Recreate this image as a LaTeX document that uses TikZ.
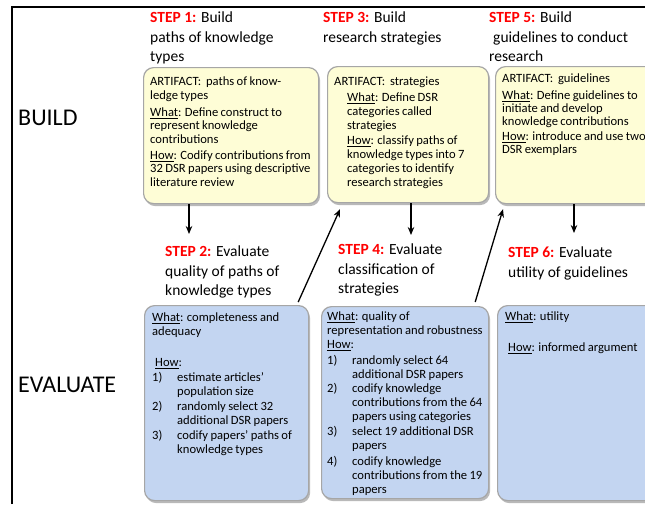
\documentclass[tikz,border=0pt]{standalone}
\usepackage{fontspec}
\setmainfont{Carlito}
\usetikzlibrary{arrows.meta,shadows}
\definecolor{ylw}{RGB}{254,253,214}
\definecolor{blu}{RGB}{195,213,241}
\definecolor{stepred}{RGB}{255,0,0}
\newcommand{\stp}[1]{\textcolor{stepred}{\bfseries #1}}
\newcommand{\itm}[1]{\makebox[25pt][l]{#1}}
\newcommand{\bxfont}[1]{\fontsize{12.6}{#1}\selectfont\spaceskip=0.19em plus 0.05em minus 0.03em\relax}
\begin{document}
\begin{tikzpicture}[x=1pt,y=-1pt,
  bbox/.style={rounded corners=10pt, draw=black!35, line width=1.2pt,
    drop shadow={shadow xshift=1.5pt,shadow yshift=-2.5pt,opacity=0.55}},
  buildbox/.style={bbox, fill=ylw, anchor=north west, inner sep=0pt},
  evalbox/.style={bbox, fill=blu, anchor=north west, inner sep=0pt},
  boxtext/.style={anchor=north west, inner sep=0pt, align=left, font=\bxfont{13.5}},
  steptext/.style={anchor=north west, inner sep=0pt, align=left, font=\fontsize{15.5}{19.5}\selectfont},
  phase/.style={anchor=west, inner sep=0pt, font=\fontsize{24}{28}\selectfont},
  arr/.style={line width=1.3pt, -{Stealth[length=8pt,width=6.5pt]}},
]
\useasboundingbox (0,0) rectangle (645,504);
% frame
\draw[line width=2pt] (12,504) -- (12,7) -- (645,7);
% phases
\node[phase] (build) at (18,118) {BUILD};
\node[phase] (evaluate) at (18,385) {EVALUATE};
% step labels
\node[steptext] (s1) at (150,12) {\stp{STEP 1:} Build\\paths of knowledge\\types};
\node[steptext] (s3) at (323,12) {\stp{STEP 3:} Build\\research strategies};
\node[steptext] (s5) at (489,12) {\stp{STEP 5:} Build\\\hspace*{4pt}guidelines to conduct\\research};
\node[steptext] (s2) at (165,246) {\stp{STEP 2:} Evaluate\\quality of paths of\\knowledge types};
\node[steptext] (s4) at (338,244) {\stp{STEP 4:} Evaluate\\classification of\\strategies};
\node[steptext] (s6) at (508,247) {\stp{STEP 6:} Evaluate\\utility of guidelines};
% build boxes
\node[buildbox, minimum width=175pt, minimum height=136pt] (b1) at (143,67) {};
\node[buildbox, minimum width=161pt, minimum height=136pt] (b2) at (327,66) {};
\node[buildbox, minimum width=170pt, minimum height=137pt] (b3) at (495,66) {};
% evaluate boxes
\node[evalbox, minimum width=164pt, minimum height=195pt] (e1) at (144,305) {};
\node[evalbox, minimum width=167pt, minimum height=192pt] (e2) at (321,306) {};
\node[evalbox, minimum width=170pt, minimum height=195pt] (e3) at (497,305) {};
% build box texts
\node[boxtext] (t1) at (150,77) {ARTIFACT:\ \ paths of know-\\ledge types\\[3.5pt]
\underline{What}: Define construct to\\represent knowledge\\contributions\\[2.5pt]
\underline{How}: Codify contributions from\\32 DSR papers using descriptive\\literature review};
\node[boxtext, font=\bxfont{14}] (t2) at (334,77) {ARTIFACT:\ \ strategies\\[2pt]
\hspace*{13pt}\underline{What}: Define DSR\\\hspace*{13pt}categories called\\\hspace*{13pt}strategies\\[1pt]
\hspace*{13pt}\underline{How}: classify paths of\\\hspace*{13pt}knowledge types into 7\\\hspace*{13pt}categories to identify\\\hspace*{13pt}research strategies};
\node[boxtext, font=\bxfont{13}] (t3) at (502,74) {ARTIFACT:\ \ guidelines\\[3.5pt]
\underline{What}: Define guidelines to\\initiate and develop\\knowledge contributions\\[2.5pt]
\underline{How}: introduce and use two\\DSR exemplars};
% evaluate box texts
\node[boxtext, font=\bxfont{14}] (u1) at (152,313) {\underline{What}: completeness and\\adequacy\\[17pt]
\hspace*{3pt}\underline{How}:\\[1pt]
\itm{1)}estimate articles’\\\itm{}population size\\[1pt]
\itm{2)}randomly select 32\\\itm{}additional DSR papers\\[1pt]
\itm{3)}codify papers’ paths of\\\itm{}knowledge types};
\node[boxtext, font=\bxfont{14}] (u2) at (327,312) {\underline{What}: quality of\\representation and robustness\\
\underline{How}:\\[2pt]
\itm{1)}randomly select 64\\\itm{}additional DSR papers\\
\itm{2)}codify knowledge\\\itm{}contributions from the 64\\\itm{}papers using categories\\[1pt]
\itm{3)}select 19 additional DSR\\\itm{}papers\\[2pt]
\itm{4)}codify knowledge\\\itm{}contributions from the 19\\\itm{}papers};
\node[boxtext, font=\bxfont{14}] (u3) at (505,312) {\underline{What}: utility\\[17pt]
\hspace*{3pt}\underline{How}: informed argument};
% connectors
\coordinate (d1) at (189,234);
\coordinate (d2) at (411,235);
\coordinate (d3) at (574,233);
\draw[arr] (b1.south -| d1) -- (d1);
\draw[arr] (b2.south -| d2) -- (d2);
\draw[arr] (b3.south -| d3) -- (d3);
\draw[arr] ([xshift=-11pt,yshift=3pt]e1.north east) -- ([xshift=13pt,yshift=-6pt]b2.south west);
\draw[arr] ([xshift=-14pt,yshift=4pt]e2.north east) -- ([xshift=8pt,yshift=-5pt]b3.south west);
\end{tikzpicture}
\end{document}
